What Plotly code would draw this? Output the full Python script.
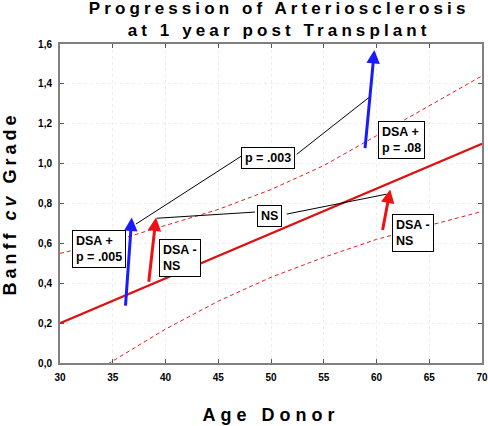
import plotly.graph_objects as go

# ---- data ----
age = [30, 35, 40, 45, 50, 55, 60, 65, 70]
fit = [0.20, 0.3125, 0.425, 0.5375, 0.65, 0.7625, 0.875, 0.9875, 1.10]
ci_upper = [0.55, 0.61, 0.69, 0.77, 0.87, 0.99, 1.14, 1.29, 1.44]
ci_lower = [-0.15, 0.01, 0.17, 0.31, 0.43, 0.53, 0.62, 0.69, 0.76]

# arrows: (tail x, tail y, tip x, tip y, colour)
arrow_tail_x = [36.2, 38.4, 58.9, 60.55]
arrow_tail_y = [0.28, 0.40, 1.07, 0.66]
arrow_tip_x = [36.8, 39.1, 59.8, 61.3]
arrow_tip_y = [0.73, 0.73, 1.57, 0.87]
arrow_colors = ["#1a1aff", "#ee1111", "#1a1aff", "#ee1111"]

# label boxes
box_text = ["DSA +<br>p = .005", "DSA -<br>NS", "p = .003", "NS", "DSA +<br>p = .08", "DSA -<br>NS"]
box_x = [33.66, 41.37, 49.75, 49.9, 62.4, 63.5]
box_y = [0.57, 0.528, 1.03, 0.736, 1.118, 0.653]

# connector lines (x0, y0, x1, y1)
conn_x0 = [37.2, 52.44, 39.16, 51.49]
conn_y0 = [0.697, 1.047, 0.726, 0.747]
conn_x1 = [47.35, 59.29, 48.48, 60.97]
conn_y1 = [1.043, 1.332, 0.757, 0.847]

x_ticks = [30, 35, 40, 45, 50, 55, 60, 65, 70]
y_ticks = [0.0, 0.2, 0.4, 0.6, 0.8, 1.0, 1.2, 1.4, 1.6]

FONT = "Arial, Liberation Sans, sans-serif"

fig = go.Figure()

fig.add_trace(go.Scatter(x=age, y=ci_upper, mode="lines", line=dict(color="#e02020", width=1, dash="4px,3px"), hoverinfo="skip"))
fig.add_trace(go.Scatter(x=age, y=ci_lower, mode="lines", line=dict(color="#e02020", width=1, dash="4px,3px"), hoverinfo="skip"))
fig.add_trace(go.Scatter(x=age, y=fit, mode="lines", line=dict(color="#dd1111", width=2.2), hoverinfo="skip"))

for x0, y0, x1, y1 in zip(conn_x0, conn_y0, conn_x1, conn_y1):
    fig.add_trace(go.Scatter(x=[x0, x1], y=[y0, y1], mode="lines", line=dict(color="black", width=1), hoverinfo="skip"))

annotations = []
for tx, ty, hx, hy, c in zip(arrow_tail_x, arrow_tail_y, arrow_tip_x, arrow_tip_y, arrow_colors):
    annotations.append(dict(x=hx, y=hy, ax=tx, ay=ty, xref="x", yref="y", axref="x", ayref="y",
                            text="", showarrow=True, arrowhead=2, arrowsize=0.9, arrowwidth=3,
                            arrowcolor=c))
for t, x, y in zip(box_text, box_x, box_y):
    annotations.append(dict(x=x, y=y, xref="x", yref="y", text=t, showarrow=False, align="left",
                            font=dict(family=FONT, size=12.5, color="black", weight="bold"),
                            bgcolor="white", bordercolor="black", borderwidth=1, borderpad=3))

axis_common = dict(showline=True, linecolor="#808080", linewidth=2, mirror="allticks",
                   ticks="inside", ticklen=4, tickcolor="#555555", tickwidth=1,
                   showgrid=True, gridcolor="#ededed", griddash="dot", gridwidth=1,
                   zeroline=False, automargin=False,
                   tickfont=dict(family=FONT, size=10, color="black", weight="bold"))

fig.update_layout(
    template="none",
    width=488, height=426,
    margin=dict(l=60, r=6, t=44, b=63, pad=0),
    paper_bgcolor="white", plot_bgcolor="white",
    showlegend=False,
    separators=",.",
    title=dict(text="Progression of Arteriosclerosis<br>at 1 year post Transplant",
               x=0.572, xanchor="center", y=0.968, yanchor="top", yref="container",
               font=dict(family=FONT, size=17, color="black", weight="bold")),
    xaxis=dict(range=[30, 70], tickvals=x_ticks, ticklabelstandoff=4,
               title=dict(text="Age Donor", standoff=26,
                          font=dict(family=FONT, size=18, color="black", weight="bold")),
               **axis_common),
    yaxis=dict(range=[0, 1.6], tickvals=y_ticks, tickformat=".1f", ticklabelstandoff=4,
               title=dict(text="Banff <i>cv</i> Grade", standoff=22,
                          font=dict(family=FONT, size=18, color="black", weight="bold")),
               **axis_common),
    annotations=annotations,
)

post = """
var s = document.createElement('style');
s.innerHTML = 'html,body{margin:0;padding:0;} .gtitle{letter-spacing:4.1px;} .xtitle{letter-spacing:5px;} .ytitle{letter-spacing:4px;}';
document.head.appendChild(s);
"""
fig.write_html("out.html", post_script=post, config={"displayModeBar": False})
